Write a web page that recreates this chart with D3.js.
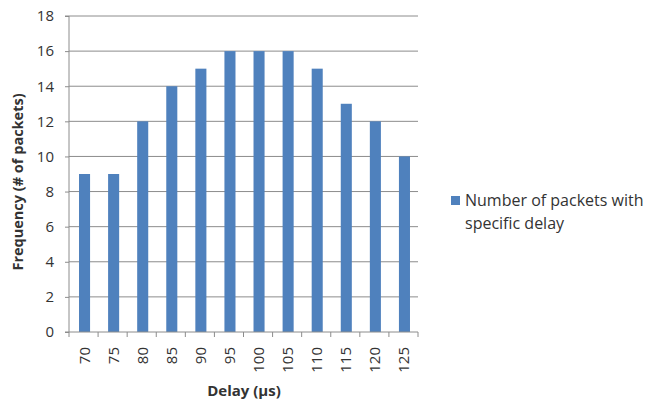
<!DOCTYPE html>
<html><head><meta charset="utf-8">
<script src="https://cdn.jsdelivr.net/npm/d3@7"></script>
<style>body{margin:0;background:#fff}svg{display:block}text{font-family:"Open Sans",sans-serif;fill:#333}</style>
</head><body>
<svg id="c" width="652" height="403"></svg>
<script>
const categories = ["70","75","80","85","90","95","100","105","110","115","120","125"];
const values = [9,9,12,14,15,16,16,16,15,13,12,10];
const yTicks = [0,2,4,6,8,10,12,14,16,18];
const seriesName = "Number of packets with specific delay";

const svg = d3.select("#c");
const L=69, R=418, T=16, B=332;
const x = d3.scaleBand().domain(categories).range([L,R]).paddingInner(0.62).paddingOuter(0.31);
const y = d3.scaleLinear().domain([0,18]).range([B,T]);
const gridC="#8c8c8c";

svg.append("g").selectAll("line").data(yTicks.filter(d=>d>0)).join("line")
  .attr("x1",L).attr("x2",R).attr("y1",d=>y(d)).attr("y2",d=>y(d))
  .attr("stroke",gridC).attr("stroke-width",1);

svg.append("g").selectAll("rect").data(values).join("rect")
  .attr("x",(d,i)=>x(categories[i])+1).attr("width",x.bandwidth())
  .attr("y",d=>y(d)).attr("height",d=>B-y(d)).attr("fill","#4f81bd");

const ya = svg.append("g").attr("transform",`translate(${L},0)`)
  .call(d3.axisLeft(y).tickValues(yTicks).tickSize(4).tickPadding(11));
ya.select(".domain").attr("stroke",gridC).attr("d",`M-4,${B}H0V${T}H-4`);
ya.selectAll(".tick line").attr("stroke",gridC);
ya.selectAll("text").style("font-size","15px").attr("fill","#333");

const step = x.step();
const xa = svg.append("g");
xa.append("line").attr("x1",L).attr("x2",R).attr("y1",B).attr("y2",B).attr("stroke",gridC);
xa.selectAll("line.t").data(d3.range(categories.length+1)).join("line").attr("class","t")
  .attr("x1",i=>L+i*step).attr("x2",i=>L+i*step).attr("y1",B).attr("y2",B+5).attr("stroke",gridC);
xa.selectAll("text").data(categories).join("text")
  .attr("transform",d=>`translate(${x(d)+x.bandwidth()/2+6},${B+15}) rotate(-90)`)
  .attr("text-anchor","end").style("font-size","15px").text(d=>d);

svg.append("text").attr("x",244).attr("y",396).attr("text-anchor","middle")
  .style("font-size","15px").style("font-weight","bold").text("Delay (µs)");
svg.append("text").attr("transform",`translate(23,182) rotate(-90)`).attr("text-anchor","middle")
  .style("font-size","14.5px").style("font-weight","bold").text("Frequency (# of packets)");

const lg = svg.append("g");
lg.append("rect").attr("x",451).attr("y",196).attr("width",9).attr("height",9).attr("fill","#4f81bd");
lg.append("text").attr("x",465).attr("y",206).style("font-size","16px").text("Number of packets with");
lg.append("text").attr("x",465).attr("y",229).style("font-size","16px").text("specific delay");
</script>
</body></html>
